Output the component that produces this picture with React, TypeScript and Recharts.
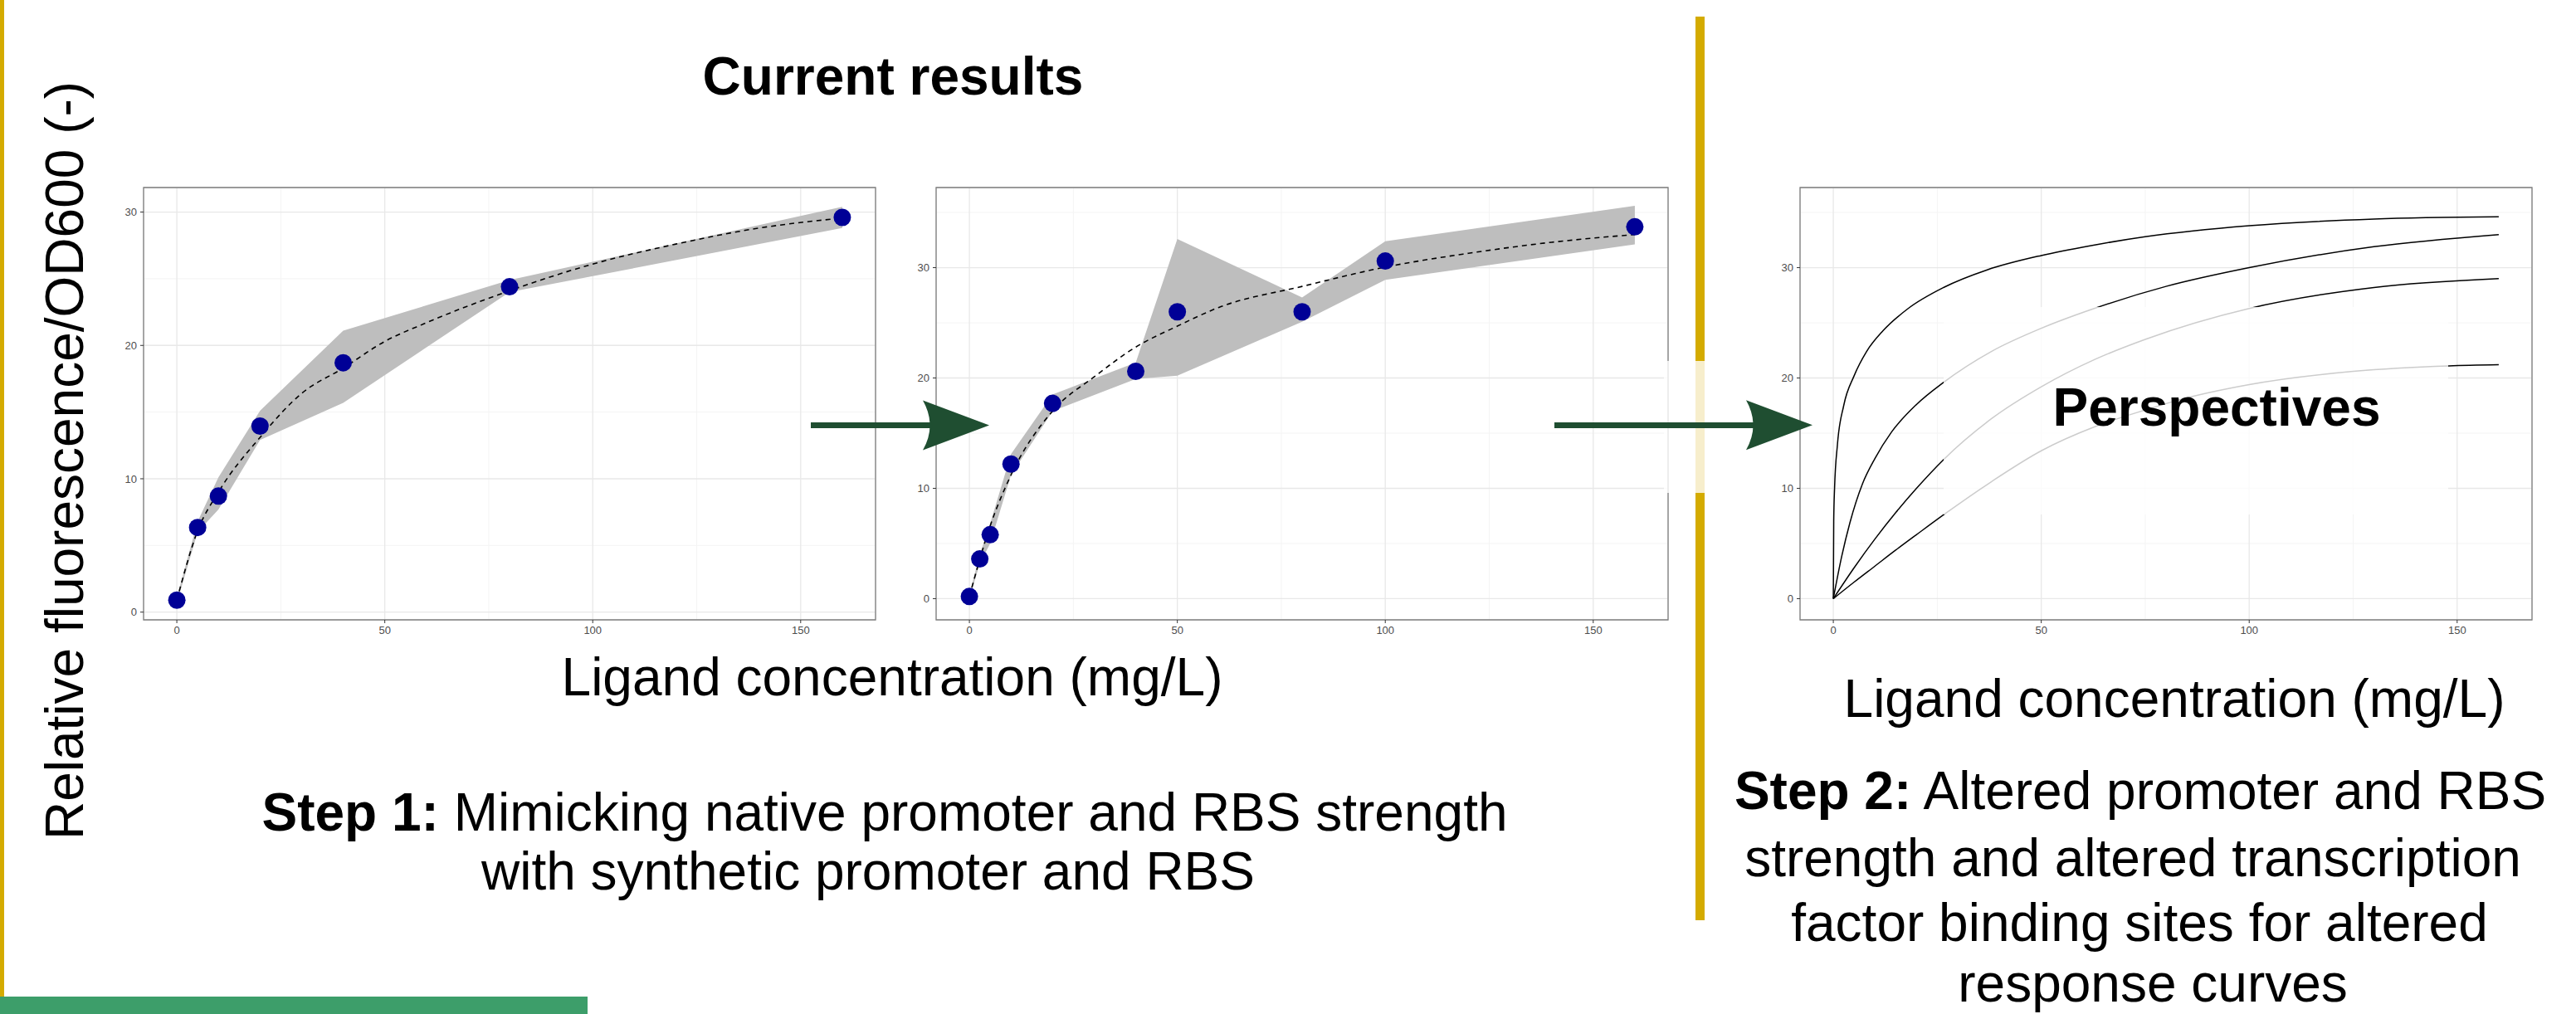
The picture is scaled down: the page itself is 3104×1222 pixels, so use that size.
import React from "react";
import {
  ComposedChart,
  Area,
  Line,
  Scatter,
  XAxis,
  YAxis,
  CartesianGrid,
  ReferenceArea,
} from "recharts";

// shared x scale (ligand concentration, mg/L)
const xTicks = [0, 50, 100, 150];
const xMinor = [25, 75, 125];
const xDomain: [number, number] = [-8, 168];

// panel 1: native promoter
const conc1 = [0, 5, 10, 20, 40, 80, 160];
const mean1 = [0.9, 6.35, 8.7, 13.95, 18.7, 24.4, 29.6];
const low1 = [0.7, 6.0, 7.7, 12.9, 15.7, 24.0, 28.8];
const high1 = [1.1, 6.8, 10.1, 15.1, 21.1, 24.9, 30.4];
const fitX1 = [0, 5, 10, 20, 30, 40, 50, 60, 80, 100, 120, 140, 160];
const fitY1 = [0.9, 6.1, 9.0, 13.1, 16.4, 18.3, 20.3, 21.7, 24.1, 26.1, 27.6, 28.8, 29.55];
const yTicks1 = [0, 10, 20, 30];
const yMinor1 = [5, 15, 25];
const yDomain1: [number, number] = [-0.58, 31.84];

// panel 2: synthetic promoter
const conc2 = [0, 2.5, 5, 10, 20, 40, 50, 80, 100, 160];
const mean2 = [0.2, 3.6, 5.8, 12.2, 17.7, 20.6, 26.0, 26.0, 30.6, 33.7];
const low2 = [0, 3.2, 5.0, 11.2, 17.0, 19.9, 20.2, 25.1, 28.9, 32.1];
const high2 = [0.4, 4.0, 6.8, 13.1, 18.5, 21.4, 32.6, 27.3, 32.4, 35.6];
const fitX2 = [0, 5, 10, 20, 30, 40, 50, 60, 80, 100, 120, 140, 160];
const fitY2 = [0.2, 6.6, 11.2, 17.0, 20.1, 22.8, 24.7, 26.4, 28.3, 30.05, 31.3, 32.3, 33.0];
const yTicks2 = [0, 10, 20, 30];
const yMinor2 = [5, 15, 25, 35];
const yDomain2: [number, number] = [-1.92, 37.26];

// panel 3: perspective response curves
const curveAx = [0, 0.1, 0.3, 1, 2.5, 5, 8, 12, 18, 26.5, 37, 50, 62, 75, 100, 130, 160];
const curveAy = [0, 7, 10, 14, 17.5, 20.2, 22.4, 24.3, 26.3, 28.2, 29.8, 31.1, 32.0, 32.8, 33.8, 34.4, 34.6];
const curveBx = [0, 2, 4, 7, 10, 14, 20, 26.5, 38, 50, 62, 80, 100, 130, 160];
const curveBy = [0, 3.8, 6.9, 10.4, 12.7, 15.1, 17.6, 19.6, 22.4, 24.5, 26.2, 28.3, 30, 31.9, 33];
const curveCx = [0, 5, 10, 15, 20, 26.5, 38, 50, 63, 75, 100, 130, 160];
const curveCy = [0, 2.8, 5.4, 7.8, 10, 12.6, 16.3, 19.2, 21.7, 23.5, 26.3, 28.2, 29.0];
const curveDx = [0, 5, 10, 15, 20, 26.5, 38, 50, 63, 75, 83, 100, 125, 148, 160];
const curveDy = [0, 1.5, 2.95, 4.4, 5.8, 7.6, 10.6, 13.4, 15.6, 17.1, 18, 19.4, 20.6, 21.1, 21.2];

const FONT = "'Liberation Sans', Arial, Helvetica, sans-serif";
const BLUE = "#000096";
const RIBBON = "#bebebe";
const GOLD = "#d4ab00";
const ARROW = "#1f4e31";

const PLOT_W = 882;
const PLOT_H = 521;
const PLOT_TOP = 225.7;
const Y_AXIS_W = 60;

const pairs = (xs: number[], ys: number[]) => xs.map((x, i) => ({ x, y: ys[i] }));

const tickStyle = { fill: "#4d4d4d", fontSize: 13, fontFamily: FONT };

function axes(yDomain: [number, number], yTicks: number[], yMinor: number[]) {
  return [
    <XAxis
      key="x"
      dataKey="x"
      type="number"
      domain={xDomain}
      ticks={xTicks}
      allowDataOverflow
      height={40}
      tickSize={4}
      tickMargin={4}
      tick={tickStyle}
      tickLine={{ stroke: "#333" }}
      axisLine={false}
    />,
    <YAxis
      key="y"
      type="number"
      domain={yDomain}
      ticks={yTicks}
      allowDataOverflow
      width={Y_AXIS_W}
      tickSize={4}
      tickMargin={4}
      tick={tickStyle}
      tickLine={{ stroke: "#333" }}
      axisLine={false}
    />,
    <XAxis
      key="xm"
      xAxisId="minor"
      dataKey="x"
      type="number"
      domain={xDomain}
      ticks={xMinor}
      allowDataOverflow
      hide
    />,
    <YAxis
      key="ym"
      yAxisId="minor"
      type="number"
      domain={yDomain}
      ticks={yMinor}
      allowDataOverflow
      hide
    />,
    <CartesianGrid
      key="gm"
      xAxisId="minor"
      yAxisId="minor"
      stroke="#f4f4f4"
      strokeWidth={1}
    />,
    <CartesianGrid key="g" stroke="#e8e8e8" strokeWidth={1.3} />,
  ];
}

function DataPanel({
  left,
  conc,
  mean,
  low,
  high,
  fitX,
  fitY,
  yDomain,
  yTicks,
  yMinor,
}: {
  left: number;
  conc: number[];
  mean: number[];
  low: number[];
  high: number[];
  fitX: number[];
  fitY: number[];
  yDomain: [number, number];
  yTicks: number[];
  yMinor: number[];
}) {
  const rows = conc.map((x, i) => ({ x, y: mean[i], band: [low[i], high[i]] }));
  const fit = pairs(fitX, fitY);
  return (
    <div style={{ position: "absolute", left: left - Y_AXIS_W, top: PLOT_TOP - 10 }}>
      <ComposedChart
        width={Y_AXIS_W + PLOT_W + 10}
        height={PLOT_H + 50}
        margin={{ top: 10, right: 10, left: 0, bottom: 0 }}
      >
        {axes(yDomain, yTicks, yMinor)}
        <Area
          data={rows}
          dataKey="band"
          type="linear"
          fill={RIBBON}
          fillOpacity={1}
          stroke="none"
          dot={false}
          activeDot={false}
          isAnimationActive={false}
        />
        <Line
          data={fit}
          dataKey="y"
          type="monotone"
          stroke="#000"
          strokeWidth={1.6}
          strokeDasharray="6 5"
          dot={false}
          activeDot={false}
          isAnimationActive={false}
        />
        <Scatter
          data={rows}
          dataKey="y"
          isAnimationActive={false}
          shape={(p: any) => <circle cx={p.cx} cy={p.cy} r={10.5} fill={BLUE} />}
        />
        <ReferenceArea
          x1={xDomain[0]}
          x2={xDomain[1]}
          y1={yDomain[0]}
          y2={yDomain[1]}
          fill="none"
          stroke="#7f7f7f"
          strokeWidth={1.3}
          ifOverflow="visible"
        />
      </ComposedChart>
    </div>
  );
}

function CurvePanel({ left }: { left: number }) {
  const curves = [
    pairs(curveAx, curveAy),
    pairs(curveBx, curveBy),
    pairs(curveCx, curveCy),
    pairs(curveDx, curveDy),
  ];
  return (
    <div style={{ position: "absolute", left: left - Y_AXIS_W, top: PLOT_TOP - 10 }}>
      <ComposedChart
        width={Y_AXIS_W + PLOT_W + 10}
        height={PLOT_H + 50}
        margin={{ top: 10, right: 10, left: 0, bottom: 0 }}
      >
        {axes(yDomain2, yTicks2, yMinor2)}
        {curves.map((c, i) => (
          <Line
            key={i}
            data={c}
            dataKey="y"
            type="monotone"
            stroke="#000"
            strokeWidth={1.5}
            dot={false}
            activeDot={false}
            isAnimationActive={false}
          />
        ))}
        <ReferenceArea
          x1={xDomain[0]}
          x2={xDomain[1]}
          y1={yDomain2[0]}
          y2={yDomain2[1]}
          fill="none"
          stroke="#7f7f7f"
          strokeWidth={1.3}
          ifOverflow="visible"
        />
      </ComposedChart>
    </div>
  );
}

function arrowHead(tip: number, back: number, y: number) {
  return `M ${tip} ${y} L ${back} ${y - 30} Q ${back + 17} ${y} ${back} ${y + 30} Z`;
}

export default function App() {
  const big = { fontFamily: FONT, fontSize: 64, fill: "#000" };
  return (
    <div
      style={{
        position: "absolute",
        left: 0,
        top: 0,
        width: 3104,
        height: 1222,
        background: "#fff",
        overflow: "hidden",
      }}
    >
      <DataPanel
        left={173.3}
        conc={conc1}
        mean={mean1}
        low={low1}
        high={high1}
        fitX={fitX1}
        fitY={fitY1}
        yDomain={yDomain1}
        yTicks={yTicks1}
        yMinor={yMinor1}
      />
      <DataPanel
        left={1128.4}
        conc={conc2}
        mean={mean2}
        low={low2}
        high={high2}
        fitX={fitX2}
        fitY={fitY2}
        yDomain={yDomain2}
        yTicks={yTicks2}
        yMinor={yMinor2}
      />
      <CurvePanel left={2168.6} />

      <svg
        width={3104}
        height={1222}
        style={{ position: "absolute", left: 0, top: 0, pointerEvents: "none" }}
      >
        {/* decoration */}
        <rect x={0} y={0} width={5} height={1201} fill={GOLD} />
        <rect x={0} y={1201} width={708} height={21} fill="#3d9e6a" />
        <rect x={2043} y={20} width={11} height={1089} fill={GOLD} />

        {/* faded boxes */}
        <rect x={2005} y={435} width={95} height={159} fill="#fff" fillOpacity={0.8} />
        <rect x={2342} y={370} width={608} height={250} fill="#fff" fillOpacity={0.8} />

        {/* arrows */}
        <rect x={977} y={509} width={146} height={7} fill={ARROW} />
        <path d={arrowHead(1192, 1112, 512.5)} fill={ARROW} />
        <rect x={1873} y={509} width={240} height={7} fill={ARROW} />
        <path d={arrowHead(2184, 2104, 512.3)} fill={ARROW} />

        {/* titles and labels */}
        <text x={1076} y={114} textAnchor="middle" fontWeight="bold" {...big}>
          Current results
        </text>
        <text
          transform="translate(100,555) rotate(-90)"
          textAnchor="middle"
          {...big}
        >
          Relative fluorescence/OD600 (-)
        </text>
        <text x={1075} y={838} textAnchor="middle" {...big}>
          Ligand concentration (mg/L)
        </text>
        <text x={2620} y={864} textAnchor="middle" {...big}>
          Ligand concentration (mg/L)
        </text>
        <text x={2671} y={513} textAnchor="middle" fontWeight="bold" {...big}>
          Perspectives
        </text>

        <text x={1066} y={1001} textAnchor="middle" {...big}>
          <tspan fontWeight="bold">Step 1:</tspan> Mimicking native promoter and RBS strength
        </text>
        <text x={1046} y={1072} textAnchor="middle" {...big}>
          with synthetic promoter and RBS
        </text>

        <text x={2579} y={975} textAnchor="middle" {...big}>
          <tspan fontWeight="bold">Step 2:</tspan> Altered promoter and RBS
        </text>
        <text x={2570} y={1056} textAnchor="middle" {...big}>
          strength and altered transcription
        </text>
        <text x={2578} y={1134} textAnchor="middle" {...big}>
          factor binding sites for altered
        </text>
        <text x={2594} y={1207} textAnchor="middle" {...big}>
          response curves
        </text>
      </svg>
    </div>
  );
}
